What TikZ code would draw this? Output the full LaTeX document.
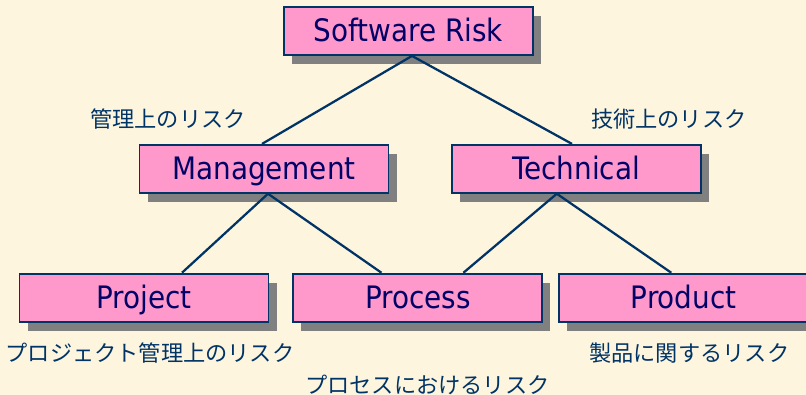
\documentclass[tikz,border=0pt]{standalone}
\usepackage{fontspec}
\usepackage{tikz}
\usetikzlibrary{positioning}
\usetikzlibrary{shadows}
\usepackage{xcolor}
\newfontfamily\boxfont{DejaVu Sans Condensed}
\newfontfamily\jpfont{Noto Sans CJK JP}
\definecolor{bgcream}{RGB}{253,245,222}
\definecolor{riskpink}{RGB}{255,153,204}
\definecolor{risknavy}{RGB}{0,51,102}
\definecolor{boxtext}{RGB}{0,0,102}
\definecolor{shadowgray}{RGB}{128,128,128}

\begin{document}
\begin{tikzpicture}

		\tikzstyle{block} = [rectangle, draw=risknavy, line width=1.3pt, fill=riskpink, text=boxtext,
		minimum width=6.225cm, minimum height=1.2cm, inner sep=0pt, text height=15.6pt, text depth=0pt,
		font=\boxfont\fontsize{22}{24}\selectfont,
		drop shadow={shadow xshift=0.2cm, shadow yshift=-0.225cm, fill=shadowgray, opacity=1}]
		\tikzstyle{jplabel} = [inner sep=0pt, text=risknavy, font=\jpfont\fontsize{15.8}{18}\selectfont]
		\tikzstyle{line} = [draw=risknavy, line width=1.6pt]

		% background
		\fill [bgcream] (0,0) rectangle (20.15,9.875);
		\useasboundingbox (0,0) rectangle (20.15,9.875);

		% top
		\node [block] (risk) at (10.21,9.1) {Software Risk};

		% middle
		\node [block,below=2.2cm of risk.south,xshift=-3.61cm] (mgmt) {Management};
		\node [block,below=2.2cm of risk.south,xshift=4.2cm] (tech) {Technical};
		\node [jplabel,above=0.36cm of mgmt.north,xshift=-2.4cm] (mgmtlbl) {管理上のリスク};
		\node [jplabel,above=0.35cm of tech.north,xshift=2.31cm] (techlbl) {技術上のリスク};

		% bottom
		\node [block,below=1.975cm of mgmt.south,xshift=-3.0cm] (proj) {Project};
		\node [block,right=0.575cm of proj.east] (proc) {Process};
		\node [block,right=0.375cm of proc.east] (prod) {Product};
		\node [jplabel,below=0.5cm of proj.south,xshift=0.15cm] (projlbl) {プロジェクト管理上のリスク};
		\node [jplabel,below=1.3cm of proc.south,xshift=0.24cm] (proclbl) {プロセスにおけるリスク};
		\node [jplabel,below=0.5cm of prod.south,xshift=0.14cm] (prodlbl) {製品に関するリスク};

		% lines
		\draw [line] ([xshift=0.09cm]risk.south) -- ([xshift=-0.05cm]mgmt.north);
		\draw [line] ([xshift=0.09cm]risk.south) -- ([xshift=-0.11cm]tech.north);
		\draw [line] ([xshift=0.1cm]mgmt.south) -- ([xshift=0.95cm]proj.north);
		\draw [line] ([xshift=0.1cm]mgmt.south) -- ([xshift=-0.91cm]proc.north);
		\draw [line] ([xshift=-0.49cm]tech.south) -- ([xshift=1.14cm]proc.north);
		\draw [line] ([xshift=-0.49cm]tech.south) -- ([xshift=-0.31cm]prod.north);

\end{tikzpicture}
\end{document}
